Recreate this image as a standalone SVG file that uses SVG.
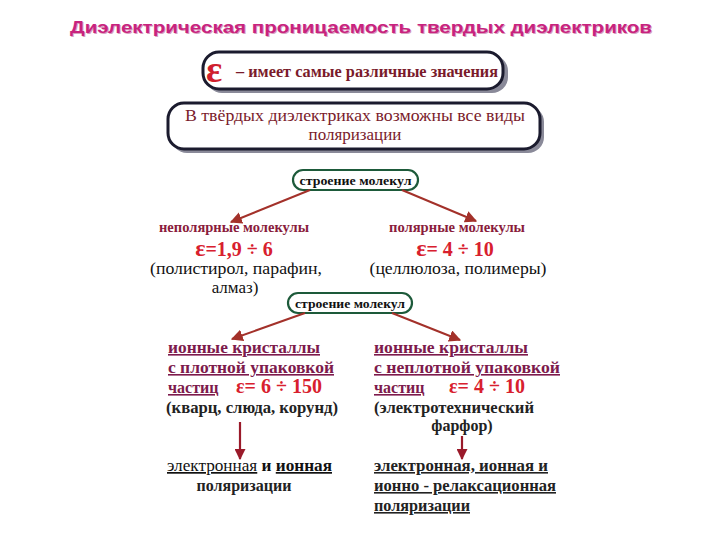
<svg xmlns="http://www.w3.org/2000/svg" width="720" height="540" viewBox="0 0 720 540">
<defs>
<style>
.title{font-family:"Liberation Sans",Arial,sans-serif;font-weight:bold;font-size:17px;fill:#c8237e}
.tshadow{font-family:"Liberation Sans",Arial,sans-serif;font-weight:bold;font-size:17px;fill:#d9a0c0}
.bx{fill:#fff;stroke:#1b1b2e;stroke-width:3}
.sh{fill:#8a8a99}
.gbx{fill:#fff;stroke:#1d5a3a;stroke-width:2.2}
.serif{font-family:"Liberation Serif","DejaVu Serif","Times New Roman",serif}
.maroon{font-size:17px;fill:#7a1b2b}
.lbl{font-size:13px;font-weight:bold;fill:#111}
.pol{font-size:14px;font-weight:bold;fill:#8a1c3c}
.eps{font-size:20px;font-weight:bold;fill:#d8202e}
.blk{font-size:17px;fill:#111}
.blkb{font-size:16px;font-weight:bold;fill:#222}
.ion{font-size:16px;font-weight:bold;fill:#7d1a4c;text-decoration:underline}
.ul{text-decoration:underline}
.conn{stroke:#a3312a;stroke-width:2;fill:none}
.down{stroke:#9a1a2a;stroke-width:2.2;fill:none}
</style>
<marker id="ah" viewBox="0 0 10 10" refX="9" refY="5" markerWidth="6" markerHeight="6" orient="auto">
<path d="M0,0 L10,5 L0,10 z" fill="#a3312a"/>
</marker>
<marker id="ahd" viewBox="0 0 10 10" refX="9" refY="5" markerWidth="5" markerHeight="5" orient="auto">
<path d="M0,0 L10,5 L0,10 z" fill="#9a1a2a"/>
</marker>
</defs>
<rect width="720" height="540" fill="#fff"/>

<g id="title">
<text class="tshadow" x="71" y="34" textLength="582" lengthAdjust="spacingAndGlyphs">Диэлектрическая  проницаемость  твердых диэлектриков</text>
<text class="title" x="70" y="33" textLength="582" lengthAdjust="spacingAndGlyphs">Диэлектрическая  проницаемость  твердых диэлектриков</text>
</g>

<g id="box1">
<rect class="sh" x="206" y="55" width="302" height="38" rx="16"/>
<rect class="bx" x="203" y="52" width="300" height="37" rx="16"/>
<text class="serif" x="206" y="82" font-size="38" font-weight="bold" fill="#d01f2e">ε</text>
<text class="serif maroon" x="236" y="77" font-weight="bold" textLength="262" lengthAdjust="spacingAndGlyphs">– имеет самые различные значения</text>
</g>

<g id="box2">
<rect class="sh" x="171" y="106" width="373" height="47" rx="16"/>
<rect class="bx" x="168" y="103" width="372" height="46" rx="16"/>
<text class="serif maroon" x="355" y="121" text-anchor="middle" textLength="340" lengthAdjust="spacingAndGlyphs">В твёрдых диэлектриках возможны все виды</text>
<text class="serif maroon" x="355" y="140" text-anchor="middle">поляризации</text>
</g>

<g id="struct1">
<rect class="gbx" x="293" y="170" width="125" height="20" rx="10"/>
<text class="serif lbl" x="355.5" y="184.5" text-anchor="middle" textLength="112" lengthAdjust="spacingAndGlyphs">строение молекул</text>
</g>

<g id="nonpolar">
<text class="serif pol" x="234" y="232" text-anchor="middle" textLength="150" lengthAdjust="spacingAndGlyphs">неполярные молекулы</text>
<text class="serif eps" x="234" y="256" text-anchor="middle"><tspan font-size="24">ε</tspan>=1,9 ÷ 6</text>
<text class="serif blk" x="236" y="274" text-anchor="middle" textLength="172" lengthAdjust="spacingAndGlyphs">(полистирол, парафин,</text>
<text class="serif blk" x="235" y="293" text-anchor="middle">алмаз)</text>
</g>

<g id="polar">
<text class="serif pol" x="457" y="232" text-anchor="middle" textLength="136" lengthAdjust="spacingAndGlyphs">полярные молекулы</text>
<text class="serif eps" x="455" y="256" text-anchor="middle"><tspan font-size="24">ε</tspan>= 4 ÷ 10</text>
<text class="serif blk" x="458" y="274" text-anchor="middle" textLength="177" lengthAdjust="spacingAndGlyphs">(целлюлоза, полимеры)</text>
</g>

<g id="struct2">
<rect class="gbx" x="288" y="293" width="124" height="20" rx="10"/>
<text class="serif lbl" x="350" y="307.5" text-anchor="middle" textLength="110" lengthAdjust="spacingAndGlyphs">строение молекул</text>
</g>

<g id="dense">
<text class="serif ion" x="168" y="353" textLength="152" lengthAdjust="spacingAndGlyphs">ионные кристаллы</text>
<text class="serif ion" x="168" y="373" textLength="166" lengthAdjust="spacingAndGlyphs">с плотной упаковкой</text>
<text class="serif ion" x="168" y="393">частиц</text>
<text class="serif eps" x="236" y="393" font-size="17"><tspan font-size="20">ε</tspan>= 6 ÷ 150</text>
<text class="serif blkb" x="166" y="413" textLength="172" lengthAdjust="spacingAndGlyphs">(кварц, слюда, корунд)</text>
</g>

<g id="loose">
<text class="serif ion" x="374" y="353" textLength="154" lengthAdjust="spacingAndGlyphs">ионные кристаллы</text>
<text class="serif ion" x="374" y="373" textLength="186" lengthAdjust="spacingAndGlyphs">с неплотной упаковкой</text>
<text class="serif ion" x="374" y="393">частиц</text>
<text class="serif eps" x="449" y="393" font-size="17"><tspan font-size="20">ε</tspan>= 4 ÷ 10</text>
<text class="serif blkb" x="374" y="413" textLength="160" lengthAdjust="spacingAndGlyphs">(электротехнический</text>
<text class="serif blkb" x="462" y="431" text-anchor="middle">фарфор)</text>
</g>

<g id="result1">
<text class="serif blk" x="167" y="471" textLength="165" lengthAdjust="spacingAndGlyphs"><tspan class="ul">электронная</tspan> <tspan font-weight="bold">и</tspan> <tspan class="ul" font-weight="bold">ионная</tspan></text>
<text class="serif blkb" x="244" y="491" text-anchor="middle">поляризации</text>
</g>

<g id="result2">
<text class="serif blkb ul" x="374" y="471" textLength="174" lengthAdjust="spacingAndGlyphs">электронная,  ионная и</text>
<text class="serif blkb ul" x="374" y="491" textLength="182" lengthAdjust="spacingAndGlyphs">ионно - релаксационная</text>
<text class="serif blkb ul" x="374" y="511" textLength="96" lengthAdjust="spacingAndGlyphs">поляризации</text>
</g>

<g id="connectors">
<line class="conn" x1="310" y1="190" x2="231" y2="222" marker-end="url(#ah)"/>
<line class="conn" x1="402" y1="190" x2="476" y2="221" marker-end="url(#ah)"/>
<line class="conn" x1="305" y1="313" x2="232" y2="339" marker-end="url(#ah)"/>
<line class="conn" x1="392" y1="313" x2="460" y2="340" marker-end="url(#ah)"/>
<line class="down" x1="240" y1="422" x2="240" y2="459" marker-end="url(#ahd)"/>
<line class="down" x1="462" y1="436" x2="462" y2="459" marker-end="url(#ahd)"/>
</g>
</svg>
